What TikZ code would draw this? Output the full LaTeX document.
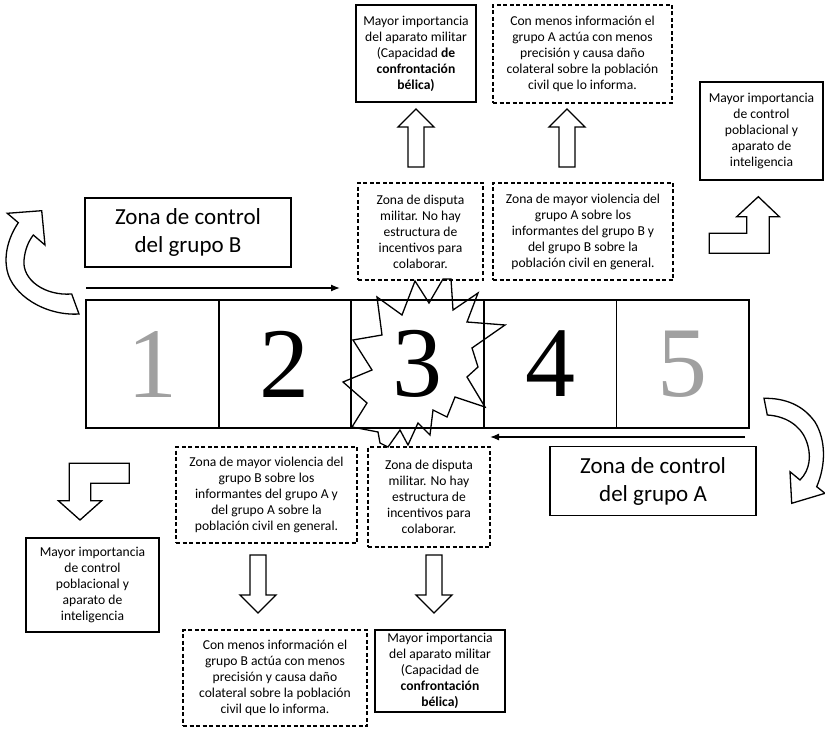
\documentclass[tikz,border=0pt]{standalone}
\usepackage{fontspec}
\setmainfont{Carlito}
\newfontfamily\digitfont{Liberation Serif}
\usetikzlibrary{arrows.meta, positioning}
\usepackage{xcolor}
\definecolor{ZoneBlack}{HTML}{000000}
\definecolor{ZoneGray}{HTML}{A0A0A0}
\definecolor{ZoneWhite}{HTML}{FFFFFF}
\tikzset{
    % Box styles
    solidbox/.style={
        rectangle,
        draw=ZoneBlack,
        line width=1.4pt,
        inner sep=0pt,
        align=center,
        font=\fontsize{13.6}{16}\selectfont
    },
    dashbox/.style={
        solidbox,
        dash pattern=on 4pt off 2.5pt
    },
    zonebox/.style={
        rectangle,
        draw=ZoneBlack,
        line width=1.4pt,
        minimum width=206pt,
        minimum height=69pt,
        align=center,
        font=\fontsize{23}{28}\selectfont
    },
    numcell/.style={
        rectangle,
        draw=ZoneBlack,
        line width=1.8pt,
        outer sep=0pt,
        inner sep=0pt,
        minimum width=132.6pt,
        minimum height=128pt,
        font=\digitfont\fontsize{100}{100}\selectfont
    },
    % Arrow styles
    blockarrow/.style={
        draw=ZoneBlack,
        fill=ZoneWhite,
        line width=1.3pt,
        line join=miter
    },
    arrow/.style={
        -{Latex[length=9pt,width=7pt]},
        line width=1.3pt,
        draw=ZoneBlack
    },
    uparrow/.pic={
        \draw[blockarrow] (0,0) -- (18,18) -- (8,18) -- (8,58) -- (-8,58) -- (-8,18) -- (-18,18) -- cycle;
    }
}

\begin{document}
\begin{tikzpicture}[x=1pt, y=-1pt]
    \useasboundingbox (0,0) rectangle (825,730);

    % Strip of zones
    \node[numcell, text=ZoneGray] (cell1) at (152.3,364) {1};
    \node[numcell, right=0pt of cell1] (cell2) {2};
    \node[numcell, right=0pt of cell2] (cell3) {3};
    \node[numcell, right=0pt of cell3] (cell4) {4};
    \node[numcell, right=0pt of cell4, text=ZoneGray] (cell5) {5};

    % Dispute burst over zone 3
    \draw[line width=1.3pt, line join=miter] (415,281) -- (429,303) -- (443,279) -- (451,279) -- (453,310)
        -- (478,293) -- (467,322) -- (505,325) -- (472,348) -- (478,367) -- (467,377) -- (485,407)
        -- (455,397) -- (447,417) -- (433,410) -- (430,435) -- (418,423) -- (408,445) -- (400,430)
        -- (388,447) -- (380,443) -- (378,432) -- (352,427) -- (367,403) -- (343,382) -- (372,370)
        -- (353,340) -- (382,335) -- (377,297) -- (402,315) -- cycle;

    % Group B side (top)
    \node[zonebox] (zonaB) at (188,232.5) {Zona de control\\del grupo B};
    \coordinate (bStart) at (86,288);
    \coordinate (bEnd) at (340,288);
    \draw[arrow] (bStart) -- (bEnd);

    \node[dashbox, minimum width=125pt, minimum height=97pt] (disputaA) at (420.5,231.5)
        {Zona de disputa\\militar. No hay\\estructura de\\incentivos para\\colaborar.};
    \node[dashbox, minimum width=180pt, minimum height=97pt] (violA) at (583,231.5)
        {Zona de mayor violencia del\\grupo A sobre los\\informantes del grupo B y\\del grupo B sobre la\\población civil en general.};

    \node[solidbox, minimum width=120pt, minimum height=97pt] (milA) at (416,53.5)
        {Mayor importancia\\del aparato militar\\(Capacidad \textbf{de}\\\textbf{confrontación}\\\textbf{bélica)}};
    \node[dashbox, minimum width=179pt, minimum height=98pt] (infoA) at (582.5,54)
        {Con menos información el\\grupo A actúa con menos\\precisión y causa daño\\colateral sobre la población\\civil que lo informa.};

    \pic at (416,109) {uparrow};
    \pic at (567,109) {uparrow};

    \node[solidbox, minimum width=123pt, minimum height=98pt] (ctrlA) at (761.5,131)
        {Mayor importancia\\de control\\poblacional y\\aparato de\\inteligencia};
    \draw[blockarrow] (709.3,253.3) -- (709.3,233.3) -- (746.7,233.3) -- (746.7,216.7) -- (736.7,216.7)
        -- (758.3,196.7) -- (779.3,216.7) -- (769.3,216.7) -- (769.3,253.3) -- cycle;

    % Curved arrow on the left
    \draw[blockarrow] (41.7,210.7) -- (7.3,213.3) -- (18.3,222.7)
        .. controls (8,238) and (4,255) .. (7,270)
        .. controls (12,295) and (45,316) .. (79,314)
        -- (71.7,294)
        .. controls (45,296) and (22,280) .. (24,260)
        .. controls (25,250) and (28,242) .. (33.3,235)
        -- (45,245) -- cycle;

    % Group A side (bottom)
    \node[zonebox] (zonaA) at (653,481) {Zona de control\\del grupo A};
    \coordinate (aStart) at (745,437);
    \coordinate (aEnd) at (490,437);
    \draw[arrow] (aStart) -- (aEnd);

    \node[dashbox, minimum width=181pt, minimum height=96pt] (violB) at (266.5,495)
        {Zona de mayor violencia del\\grupo B sobre los\\informantes del grupo A y\\del grupo A sobre la\\población civil en general.};
    \node[dashbox, minimum width=122pt, minimum height=100pt] (disputaB) at (429,497)
        {Zona de disputa\\militar. No hay\\estructura de\\incentivos para\\colaborar.};

    \pic[rotate=180] at (258,613) {uparrow};
    \pic[rotate=180] at (434,613) {uparrow};

    \node[dashbox, minimum width=184pt, minimum height=96pt] (infoB) at (275,678)
        {Con menos información el\\grupo B actúa con menos\\precisión y causa daño\\colateral sobre la población\\civil que lo informa.};
    \node[solidbox, minimum width=130pt, minimum height=82pt] (milB) at (440,671)
        {Mayor importancia\\del aparato militar\\(Capacidad de\\\textbf{confrontación}\\\textbf{bélica)}};

    \node[solidbox, minimum width=133pt, minimum height=94pt] (ctrlB) at (92.5,585)
        {Mayor importancia\\de control\\poblacional y\\aparato de\\inteligencia};
    \draw[blockarrow] (69.3,463.3) -- (129.3,463.3) -- (129.3,483.3) -- (90.7,483.3) -- (90.7,500.7)
        -- (101.7,500.7) -- (80,520) -- (58.3,500.7) -- (69.3,500.7) -- cycle;

    % Curved arrow on the right
    \draw[blockarrow] (791.7,503.3) -- (790,471.7) -- (800,480)
        .. controls (810,470) and (812,455) .. (806,440)
        .. controls (800,425) and (785,416) .. (767.3,415)
        -- (764,398.3)
        .. controls (785,398) and (803,405) .. (815,422)
        .. controls (826,440) and (826,465) .. (816.7,486.7)
        -- (825,493.3) -- cycle;
\end{tikzpicture}
\end{document}
